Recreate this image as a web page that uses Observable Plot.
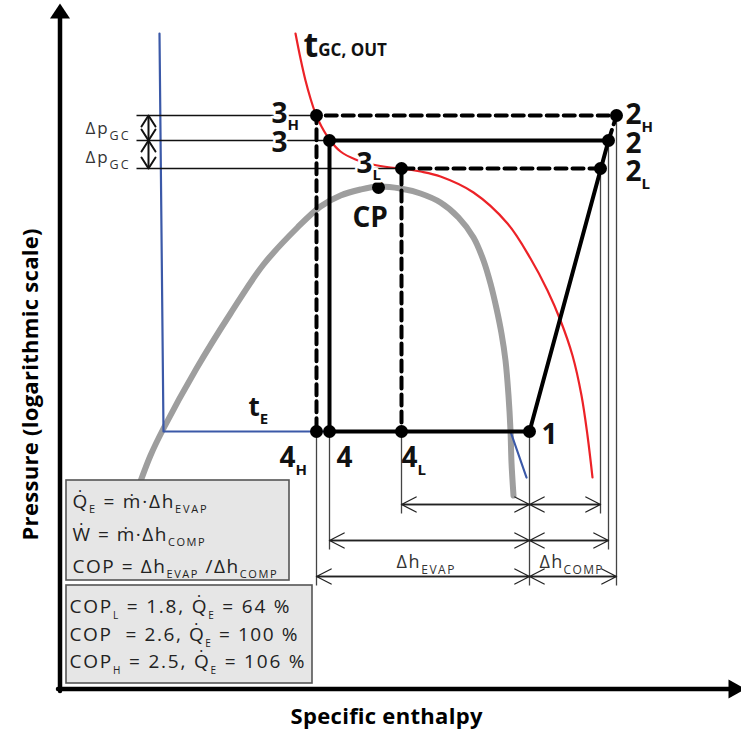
<!DOCTYPE html>
<html>
<head>
<meta charset="utf-8">
<script src="https://cdn.jsdelivr.net/npm/d3@7"></script>
<script src="https://cdn.jsdelivr.net/npm/@observablehq/plot@0.6"></script>
<style>
html, body { margin: 0; padding: 0; background: #fff; overflow: hidden; }
#chart svg { display: block; }
</style>
</head>
<body>
<div id="chart"></div>
<script>
// ---------- DATA (schematic log p–h diagram, diagram units) ----------
// x = specific enthalpy, y = pressure level (schematic, top = high pressure)
const stateNames = ["1", "2", "2H", "2L", "3", "3H", "3L", "4", "4H", "4L", "CP"];
const stateH     = [529, 608, 616, 600, 329, 316, 401, 329, 316, 401, 378];
const stateP     = [431, 140, 115, 168, 140, 115, 168, 431, 431, 431, 187];

// saturation dome
const domeH = [136, 150, 163, 196, 230, 263, 297, 320, 340, 360, 378, 400, 420, 440, 458, 473, 483, 490, 496, 501, 505, 508, 510, 511, 513];
const domeP = [492, 455, 428, 368, 313, 264, 227, 206, 195, 189, 186, 188, 193, 202, 217, 237, 260, 283, 308, 333, 360, 395, 430, 462, 495];

// gas-cooler outlet isotherm t_GC,OUT
const gcOutH = [295, 300, 305, 310, 315, 321, 329, 340, 355, 372, 390, 401, 420, 440, 473, 507, 530, 547, 560, 572, 581, 587, 592];
const gcOutP = [33, 58, 80, 98, 113, 126, 139, 151, 159, 164, 167, 168, 171, 176, 192, 223, 258, 290, 320, 355, 395, 435, 477];

// evaporation isotherm t_E
const tEH = [159, 163, 510, 526];
const tEP = [33, 431, 431, 477];

// cycles (sequence of states; the high-pressure compression 1→2H follows 1→2)
const cycleNominal = ["1", "2", "3", "4", "1"];
const cycleHigh    = ["2", "2H", "3H", "4H"];
const cycleLow     = ["2L", "3L", "4L"];

// enthalpy-difference dimension rows: [start of evaporation, 1, end of compression]
const dimRows   = [["4L", "1", "2L"], ["4", "1", "2"], ["4H", "1", "2H"]];
const dimLevelP = [504, 540, 576];

// gas-cooler pressure steps
const dpSteps = [["3H", "3"], ["3", "3L"]];

// COP results
const copSub    = ["L", "", "H"];
const copValues = [1.8, 2.6, 2.5];
const qeValues  = [64, 100, 106];

// texts
const formulaLines = ["Q\u0307_{E} = ṁ·Δh_{EVAP}", "Ẇ = ṁ·Δh_{COMP}", "COP = Δh_{EVAP} /Δh_{COMP}"];
const copLines = copSub.map((s, i) =>
  (s ? `COP_{${s}}` : "COP\u00a0") + ` = ${copValues[i].toFixed(1)}, Q\u0307_{E} = ${qeValues[i]} %`);

// ---------- LAYOUT (annotation anchors) ----------
const S = Object.fromEntries(stateNames.map((n, i) => [n, {h: stateH[i], p: stateP[i]}]));
const haloLabels = [
  {t: "3_{H}", h: 271, p: 122},
  {t: "3",     h: 271, p: 151},
  {t: "3_{L}", h: 356, p: 172}
];
const pointLabels = [
  {t: "2_{H}", h: 625, p: 123},
  {t: "2",     h: 625, p: 152},
  {t: "2_{L}", h: 625, p: 180},
  {t: "1",     h: 541, p: 443},
  {t: "4_{H}", h: 279, p: 466},
  {t: "4",     h: 336, p: 466},
  {t: "4_{L}", h: 401, p: 466},
  {t: "CP",    h: 352, p: 226}
];
const gcLabel = [{t: "t_{GC, OUT}", h: 303, p: 56}];
const teLabel = [{t: "t_{E}", h: 248, p: 415}];
const dpLabels = [{t: "Δp_{GC}", h: 85, p: 133}, {t: "Δp_{GC}", h: 85, p: 162}];
const dhLabels = [{t: "Δh_{EVAP}", h: 396, p: 567}, {t: "Δh_{COMP}", h: 539, p: 567}];
const formulaText = formulaLines.map((t, i) => ({t, h: 72, p: [507, 540, 572][i]}));
const copText = copLines.map((t, i) => ({t, h: 69, p: [612, 640, 667][i]}));
const boxes = [{x1: 66, x2: 289, y1: 480, y2: 580}, {x1: 66, x2: 312, y1: 585, y2: 683}];
const axisTitles = [{t: "Specific enthalpy", h: 386, p: 723}];
const yTitle = [{t: "Pressure (logarithmic scale)", h: 37, p: 384}];

const guideStart = 136, dpX = 148;

// ---------- derived geometry ----------
const pts = (H, P) => H.map((h, i) => ({h, p: P[i]}));
const seq = (names) => names.map(n => S[n]);

const leftGuides = ["3H", "3", "3L"].map(n => ({h1: guideStart, h2: S[n].h, p1: S[n].p, p2: S[n].p}));
const extMax = new Map();
dimRows.forEach((row, j) => row.forEach(n => extMax.set(n, Math.max(extMax.get(n) || 0, dimLevelP[j] + 9))));
const extLines = [...extMax].map(([n, pEnd]) => ({h1: S[n].h, h2: S[n].h, p1: S[n].p, p2: pEnd}));

const dimArrows = dimRows.flatMap((row, j) => {
  const p = dimLevelP[j];
  const segs = [[row[0], row[1]], [row[1], row[2]]];
  return segs.flatMap(([a, b]) => [
    {h1: S[a].h, h2: S[b].h, p1: p, p2: p},
    {h1: S[b].h, h2: S[a].h, p1: p, p2: p}
  ]);
});

const dpShafts = dpSteps.map(([a, b]) => ({h1: dpX, h2: dpX, p1: S[a].p, p2: S[b].p}));
const dpHeads = dpSteps.flatMap(([a, b], k) => {
  const ends = [[S[a].p, 1], [S[b].p, -1]];
  return ends.flatMap(([p, d], j) => [
    {h: dpX - 7, p: p + d * 11, z: `${k}-${j}`},
    {h: dpX, p: p, z: `${k}-${j}`},
    {h: dpX + 7, p: p + d * 11, z: `${k}-${j}`}
  ]);
});

const yArrowHead = [{h: 49.5, p: 18}, {h: 59.5, p: 3}, {h: 69.5, p: 18}];
const xArrowHead = [{h: 728, p: 679}, {h: 745, p: 688.5}, {h: 728, p: 698}];
const yAxisLine = [{h: 59.5, p: 690.5}, {h: 59.5, p: 16}];
const xAxisLine = [{h: 57.5, p: 688.5}, {h: 730, p: 688.5}];

// ---------- text specs ----------
const FONT = "Open Sans";
const textSpecs = [
  {data: haloLabels, fs: 28, fw: 700, fill: "#111", halo: true, sub: [15, 7]},
  {data: pointLabels, fs: 28, fw: 700, fill: "#111", sub: [15, 8]},
  {data: gcLabel, fs: 34, fw: 700, fill: "#111", sub: [17, -1]},
  {data: teLabel, fs: 26, fw: 700, fill: "#111", sub: [15, 8]},
  {data: dpLabels, fs: 17, fw: 400, fill: "#333", sub: [12.5, 6], fit: [43, 43]},
  {data: dhLabels, fs: 18, fw: 400, fill: "#333", sub: [12, 6], fit: [58, 63]},
  {data: formulaText, fs: 19, fw: 400, fill: "#222", sub: [11, 5], fit: [134, 132, 204]},
  {data: copText, fs: 19, fw: 400, fill: "#222", sub: [10, 6], fit: [220, 228, 235]},
  {data: axisTitles, fs: 22, fw: 700, fill: "#000", anchor: "middle", fit: [192]},
  {data: yTitle, fs: 22, fw: 700, fill: "#000", anchor: "middle", rotate: -90, fit: [312]}
];
const textMarks = textSpecs.map(s => Plot.text(s.data, {
  x: "h", y: "p", text: "t",
  textAnchor: s.anchor || "start", lineAnchor: "bottom",
  fontSize: s.fs, fontWeight: s.fw, fontFamily: FONT, fill: s.fill,
  rotate: s.rotate || 0,
  ...(s.halo ? {stroke: "white", strokeWidth: 5, paintOrder: "stroke", strokeLinejoin: "round"} : {})
}));

// ---------- plot ----------
const chart = Plot.plot({
  width: 741, height: 732,
  marginTop: 0, marginRight: 0, marginBottom: 0, marginLeft: 0,
  x: {domain: [0, 741], axis: null},
  y: {domain: [0, 732], reverse: true, axis: null},
  style: {background: "white"},
  marks: [
    // curves
    Plot.line(pts(domeH, domeP), {x: "h", y: "p", stroke: "#9e9e9e", strokeWidth: 6, curve: "catmull-rom"}),
    Plot.line(pts(gcOutH, gcOutP), {x: "h", y: "p", stroke: "#ec2227", strokeWidth: 2.2, curve: "catmull-rom"}),
    Plot.line(pts(tEH, tEP), {x: "h", y: "p", stroke: "#3b59a8", strokeWidth: 2.2}),
    // thin guides
    Plot.link(leftGuides, {x1: "h1", x2: "h2", y1: "p1", y2: "p2", stroke: "#111", strokeWidth: 1.3}),
    Plot.link(extLines, {x1: "h1", x2: "h2", y1: "p1", y2: "p2", stroke: "#444", strokeWidth: 1.3}),
    Plot.arrow(dimArrows, {x1: "h1", x2: "h2", y1: "p1", y2: "p2", stroke: "#222", strokeWidth: 1.3, headAngle: 54, headLength: 19}),
    Plot.link(dpShafts, {x1: "h1", x2: "h2", y1: "p1", y2: "p2", stroke: "#111", strokeWidth: 2}),
    Plot.line(dpHeads, {x: "h", y: "p", z: "z", stroke: "#111", strokeWidth: 2}),
    // cycles
    Plot.line(seq(cycleNominal), {x: "h", y: "p", stroke: "#000", strokeWidth: 4, strokeLinejoin: "miter"}),
    Plot.line(seq(cycleHigh), {x: "h", y: "p", stroke: "#000", strokeWidth: 4, strokeDasharray: "11,6"}),
    Plot.line(seq(cycleLow), {x: "h", y: "p", stroke: "#000", strokeWidth: 4, strokeDasharray: "11,6"}),
    Plot.dot(stateNames.map(n => S[n]), {x: "h", y: "p", r: 6.5, fill: "#000", stroke: null}),
    // axes
    Plot.line(yAxisLine, {x: "h", y: "p", stroke: "#000", strokeWidth: 4.5}),
    Plot.line(xAxisLine, {x: "h", y: "p", stroke: "#000", strokeWidth: 4.5}),
    Plot.line(yArrowHead, {x: "h", y: "p", fill: "#000", stroke: null}),
    Plot.line(xArrowHead, {x: "h", y: "p", fill: "#000", stroke: null}),
    // boxes
    Plot.rect(boxes, {x1: "x1", x2: "x2", y1: "y1", y2: "y2", fill: "#e6e6e6", stroke: "#555", strokeWidth: 1.6}),
    ...textMarks
  ]
});
document.getElementById("chart").appendChild(chart);

// ---------- subscripts & fitting (post-render, keeps real text) ----------
const NS = "http://www.w3.org/2000/svg";
function subscriptify(textEl, subSize, shift) {
  const s = textEl.textContent;
  if (!s.includes("_{")) return;
  textEl.textContent = "";
  const re = /_\{([^}]*)\}/g;
  let last = 0, cur = 0, m;
  const add = (str, isSub) => {
    if (!str) return;
    const ts = document.createElementNS(NS, "tspan");
    ts.textContent = str;
    const target = isSub ? shift : 0;
    if (target !== cur) ts.setAttribute("dy", target - cur);
    cur = target;
    if (isSub) ts.setAttribute("font-size", subSize);
    textEl.appendChild(ts);
  };
  while ((m = re.exec(s))) {
    add(s.slice(last, m.index), false);
    add(m[1], true);
    last = m.index + m[0].length;
  }
  add(s.slice(last), false);
}
const groups = chart.querySelectorAll('g[aria-label="text"]');
textSpecs.forEach((spec, k) => {
  const g = groups[k];
  if (!g) return;
  g.querySelectorAll("text").forEach((t, i) => {
    if (spec.sub) subscriptify(t, spec.sub[0], spec.sub[1]);
    if (spec.fit) {
      t.setAttribute("textLength", spec.fit[i]);
      t.setAttribute("lengthAdjust", "spacing");
    }
  });
});
</script>
</body>
</html>
